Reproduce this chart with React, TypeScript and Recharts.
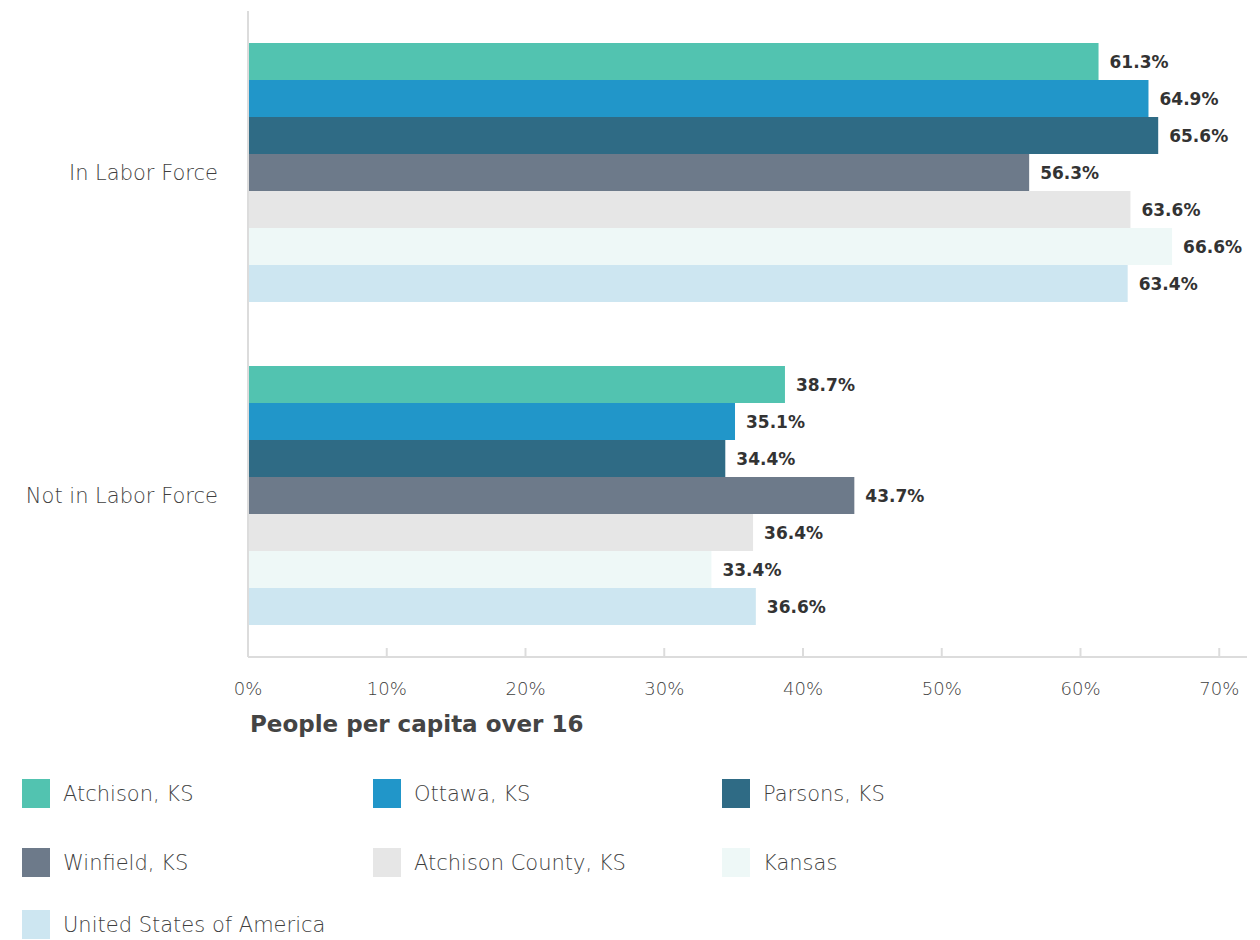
import { BarChart, Bar, XAxis, YAxis, LabelList, Label } from 'recharts';

const categories = ['In Labor Force', 'Not in Labor Force'];
const seriesNames = [
  'Atchison, KS',
  'Ottawa, KS',
  'Parsons, KS',
  'Winfield, KS',
  'Atchison County, KS',
  'Kansas',
  'United States of America',
];
const seriesColors = ['#52c3b0', '#2196c9', '#2f6b85', '#6d7a8a', '#e6e6e6', '#eef8f7', '#cde6f1'];
const inLaborForce = [61.3, 64.9, 65.6, 56.3, 63.6, 66.6, 63.4];
const notInLaborForce = [38.7, 35.1, 34.4, 43.7, 36.4, 33.4, 36.6];
const xTicks = [0, 10, 20, 30, 40, 50, 60, 70];

const rows = [inLaborForce, notInLaborForce];
const data = categories.map((name, i) => {
  const row: Record<string, any> = { name };
  seriesNames.forEach((s, j) => {
    row[s] = rows[i][j];
  });
  return row;
});

const FONT = '"DejaVu Sans", sans-serif';

const XTick = (props: any) => {
  const { x, y, payload } = props;
  return (
    <g>
      <line x1={x} x2={x} y1={y - 9} y2={y} stroke="#dcdcdc" strokeWidth={2} />
      <text x={x} y={y + 38} textAnchor="middle" fill="#3f3f3f" fontSize={18} fontWeight={200} fontFamily={FONT}>
        {payload.value}%
      </text>
    </g>
  );
};

const ValueLabel = (props: any) => {
  const { x, y, width, height, value } = props;
  return (
    <text
      x={x + width + 11}
      y={y + height / 2 + 6}
      fill="#333"
      fontSize={17}
      fontWeight={700}
      fontFamily={FONT}
    >
      {value}%
    </text>
  );
};

const AxisTitle = (props: any) => {
  const { viewBox } = props;
  return (
    <text
      x={viewBox.x + 2}
      y={viewBox.y + 75}
      fill="#444"
      fontSize={23}
      fontWeight={700}
      fontFamily={FONT}
    >
      People per capita over 16
    </text>
  );
};

export default function App() {
  return (
    <div style={{ position: 'absolute', left: 0, top: 0, width: 1260, height: 940, background: '#fff' }}>
      <BarChart
        width={1260}
        height={760}
        data={data}
        layout="vertical"
        margin={{ top: 11, right: 13, left: 0, bottom: 60 }}
        barGap={0}
        barCategoryGap={32}
      >
        <XAxis
          type="number"
          domain={[0, 72]}
          ticks={xTicks}
          allowDataOverflow
          height={43}
          axisLine={{ stroke: '#dcdcdc', strokeWidth: 2 }}
          tickLine={false}
          tickSize={0}
          tickMargin={0}
          tick={<XTick />}
        >
          <Label content={<AxisTitle />} />
        </XAxis>
        <YAxis
          type="category"
          dataKey="name"
          width={248}
          axisLine={{ stroke: '#dcdcdc', strokeWidth: 2 }}
          tickLine={false}
          tickMargin={24}
          tick={{ fill: '#3f3f3f', fontSize: 21, fontWeight: 200, fontFamily: FONT }}
        />
        {seriesNames.map((s, j) => (
          <Bar key={s} dataKey={s} fill={seriesColors[j]} isAnimationActive={false}>
            <LabelList dataKey={s} content={<ValueLabel />} />
          </Bar>
        ))}
      </BarChart>
      {seriesNames.map((s, j) => {
        const col = j % 3;
        const row = Math.floor(j / 3);
        return (
          <div
            key={s}
            style={{
              position: 'absolute',
              left: [22, 373, 722][col],
              top: [779, 848, 910][row],
              display: 'flex',
              alignItems: 'center',
              fontFamily: FONT,
              fontWeight: 200,
              fontSize: 21,
              color: '#3f3f3f',
            }}
          >
            <span style={{ width: 28, height: 29, background: seriesColors[j], display: 'inline-block', marginRight: 13 }} />
            <span>{s}</span>
          </div>
        );
      })}
    </div>
  );
}
